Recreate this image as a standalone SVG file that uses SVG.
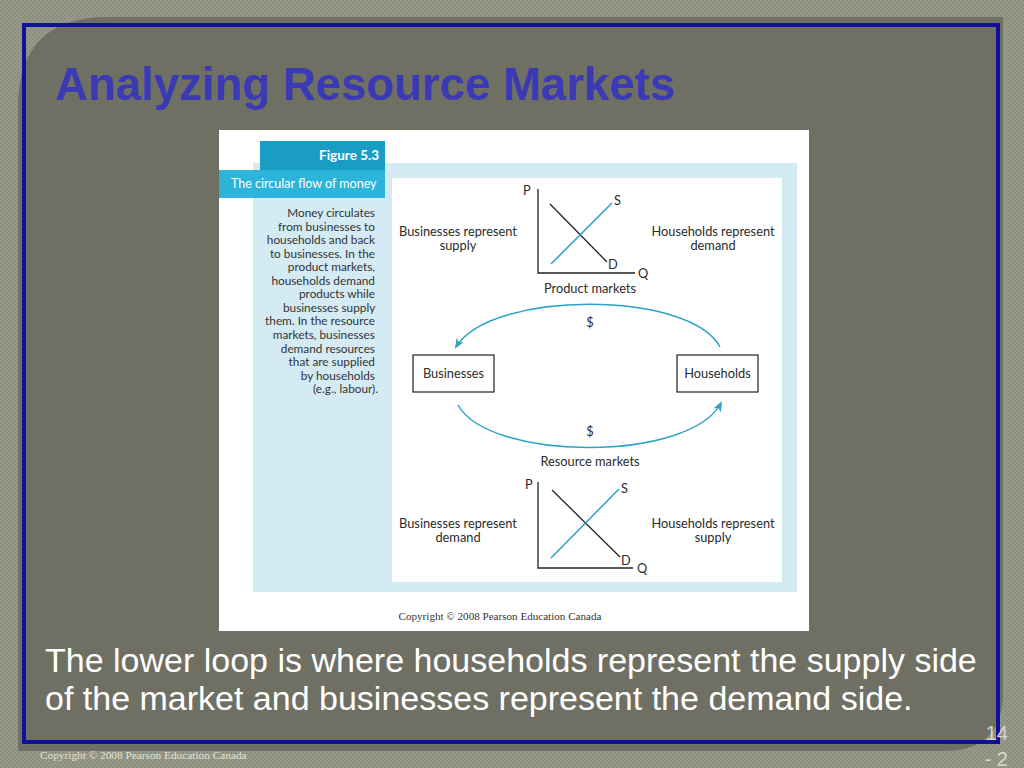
<svg xmlns="http://www.w3.org/2000/svg" width="1024" height="768" viewBox="0 0 1024 768">
<defs>
<pattern id="tex" width="4" height="4" patternUnits="userSpaceOnUse">
<rect width="4" height="4" fill="#8c8e7f"/>
<rect width="2" height="2" fill="#979989"/>
<rect x="2" y="2" width="2" height="2" fill="#979989"/>
</pattern>
<marker id="ah" viewBox="0 0 10 10" refX="8" refY="5" markerWidth="7" markerHeight="7" orient="auto">
<path d="M0,1 L10,5 L0,9 L3,5 Z" fill="#2aa3c4"/>
</marker>
<style>
.fig{font-family:Lato,"Noto Sans","DejaVu Sans",sans-serif;fill:#2b2b2b;font-size:12.8px}
.desc{font-family:Lato,"Noto Sans",sans-serif;fill:#333;font-size:11.8px;text-anchor:end}
.mid{text-anchor:middle}
.box{fill:#fff;stroke:#222;stroke-width:1.2}
.axis{stroke:#222;stroke-width:1.3;fill:none}
.dl{stroke:#222;stroke-width:1.3}
.sl{stroke:#2aa3c4;stroke-width:1.5}
.flow{fill:none;stroke:#2aa3c4;stroke-width:1.5}
</style>
</defs>
<rect width="1024" height="768" fill="url(#tex)"/>
<g id="panel">
<path d="M108,17 L1003,17 L1003,692 Q1003,751 944,751 L18,751 L18,107 Q18,17 108,17 Z" fill="#6f7063"/>
<rect x="24" y="25" width="974" height="717" fill="none" stroke="#10109a" stroke-width="4"/>
</g>
<text x="55" y="100" font-family="Liberation Sans,Arial,sans-serif" font-weight="bold" font-size="46" fill="#3a3ab4" textLength="620" lengthAdjust="spacingAndGlyphs">Analyzing Resource Markets</text>
<g id="figure">
<rect x="219" y="130" width="590" height="501" fill="#ffffff"/>
<rect x="253" y="163" width="544" height="429" fill="#d4ebf4"/>
<rect x="392" y="178" width="390" height="404" fill="#ffffff"/>
<rect x="260" y="141" width="125" height="29" fill="#1a9dc4"/>
<rect x="219" y="170" width="166" height="28" fill="#2cb4da"/>
<text x="379" y="160" font-family="Lato,'Noto Sans',sans-serif" font-weight="bold" font-size="13.5" fill="#fff" text-anchor="end">Figure 5.3</text>
<text x="231" y="188" font-family="Lato,'Noto Sans',sans-serif" font-size="12.5" fill="#fff">The circular flow of money</text>
<text class="desc">
<tspan x="378" y="217">Money circulates</tspan>
<tspan x="378" y="230.55">from businesses to</tspan>
<tspan x="378" y="244.1">households and back</tspan>
<tspan x="378" y="257.65">to businesses. In the</tspan>
<tspan x="378" y="271.2">product markets,</tspan>
<tspan x="378" y="284.75">households demand</tspan>
<tspan x="378" y="298.3">products while</tspan>
<tspan x="378" y="311.85">businesses supply</tspan>
<tspan x="378" y="325.4">them. In the resource</tspan>
<tspan x="378" y="338.95">markets, businesses</tspan>
<tspan x="378" y="352.5">demand resources</tspan>
<tspan x="378" y="366.05">that are supplied</tspan>
<tspan x="378" y="379.6">by households</tspan>
<tspan x="378" y="393.15">(e.g., labour).</tspan>
</text>
<text x="500" y="620" font-family="Liberation Serif,'Times New Roman',serif" font-size="11.1" fill="#333" text-anchor="middle">Copyright © 2008 Pearson Education Canada</text>
</g>
<g id="product-graph">
<path class="axis" d="M538,189 L538,273 L635,273"/>
<line class="dl" x1="550" y1="204" x2="607" y2="262"/>
<line class="sl" x1="551" y1="264" x2="612" y2="203"/>
<text class="fig" x="523" y="195">P</text>
<text class="fig" x="614" y="205">S</text>
<text class="fig" x="608" y="269">D</text>
<text class="fig" x="638" y="278">Q</text>
<text class="fig mid" x="590" y="293">Product markets</text>
</g>
<g id="resource-graph">
<path class="axis" d="M538,482 L538,568 L633,568"/>
<line class="dl" x1="552" y1="490" x2="620" y2="557"/>
<line class="sl" x1="551" y1="558" x2="619" y2="489"/>
<text class="fig" x="525" y="489">P</text>
<text class="fig" x="621" y="493">S</text>
<text class="fig" x="621" y="565">D</text>
<text class="fig" x="637" y="573">Q</text>
<text class="fig mid" x="590" y="466">Resource markets</text>
</g>
<g id="labels">
<text class="fig mid"><tspan x="458" y="236">Businesses represent</tspan><tspan x="458" y="250">supply</tspan></text>
<text class="fig mid"><tspan x="713" y="236">Households represent</tspan><tspan x="713" y="250">demand</tspan></text>
<text class="fig mid"><tspan x="458" y="528">Businesses represent</tspan><tspan x="458" y="542">demand</tspan></text>
<text class="fig mid"><tspan x="713" y="528">Households represent</tspan><tspan x="713" y="542">supply</tspan></text>
</g>
<g id="businesses">
<rect class="box" x="413" y="355" width="81" height="37"/>
<text class="fig mid" x="453.5" y="378">Businesses</text>
</g>
<g id="households">
<rect class="box" x="677" y="355" width="81" height="37"/>
<text class="fig mid" x="717.5" y="378">Households</text>
</g>
<g id="connectors">
<path class="flow" d="M720,347 C690,290 490,290 456,347" marker-end="url(#ah)"/>
<path class="flow" d="M458,405 C490,462 690,462 721,403" marker-end="url(#ah)"/>
<text class="fig mid" x="590" y="327">$</text>
<text class="fig mid" x="590" y="436">$</text>
</g>
<g id="body">
<text font-family="Liberation Sans,Arial,sans-serif" font-size="34" fill="#ffffff"><tspan x="45" y="672">The lower loop is where households represent the supply side</tspan><tspan x="45" y="710">of the market and businesses represent the demand side.</tspan></text>
</g>
<g id="footer">
<text x="1008" y="740" font-family="Liberation Sans,Arial,sans-serif" font-size="20" fill="#d6d6cc" text-anchor="end">14</text>
<text x="1008" y="766" font-family="Liberation Sans,Arial,sans-serif" font-size="20" fill="#d6d6cc" text-anchor="end">- 2</text>
<text x="40" y="759" font-family="Liberation Serif,'Times New Roman',serif" font-size="11.3" fill="#e2e2d8">Copyright © 2008 Pearson Education Canada</text>
</g>
</svg>
